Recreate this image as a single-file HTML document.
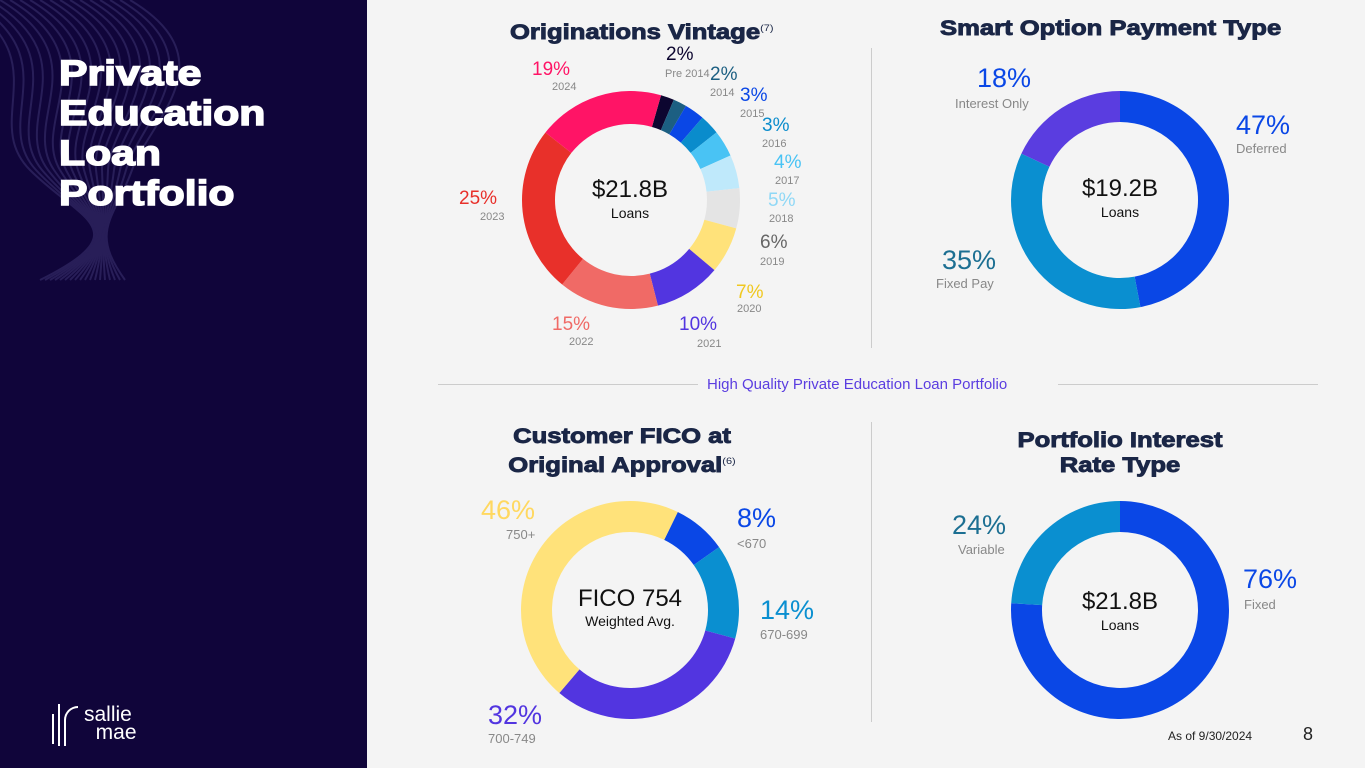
<!DOCTYPE html>
<html><head><meta charset="utf-8"><style>
body{margin:0;width:1365px;height:768px;overflow:hidden;background:#f4f4f4;font-family:"Liberation Sans",sans-serif;position:relative}
#left{position:absolute;left:0;top:0;width:367px;height:768px;background:#10053a;overflow:hidden}
.t{position:absolute;font-weight:bold;white-space:nowrap}
.p{position:absolute;font-size:22px;white-space:nowrap}
.s{position:absolute;font-size:11px;color:#888;white-space:nowrap}
.s2{position:absolute;font-size:13px;color:#888;white-space:nowrap}
.h{position:absolute;font-size:21px;font-weight:900;color:#1a2646;text-align:center;white-space:nowrap;-webkit-text-stroke:0.9px #1a2646;line-height:25px;transform:scaleX(1.22)}
.c1{position:absolute;font-size:24px;color:#111;text-align:center;width:200px}
.c2{position:absolute;font-size:14px;color:#111;text-align:center;width:200px}
</style></head><body>
<div id="left">
<svg width="367" height="768" style="position:absolute;left:0;top:0">
<g fill="none" stroke="#2e2560" stroke-width="2" opacity="0.8" id="waves"></g></svg>
<div class="t" style="left:59px;top:54px;color:#fff;font-size:35px;line-height:40px;font-weight:900;-webkit-text-stroke:1.5px #fff;transform:scaleX(1.22);transform-origin:left top">Private<br>Education<br>Loan<br>Portfolio</div>
<div style="position:absolute;left:50px;top:702px;color:#fff">
<div style="position:absolute;left:2px;top:12px;width:2px;height:30px;background:#fff"></div>
<div style="position:absolute;left:8px;top:2px;width:2px;height:42px;background:#fff"></div>
<div style="position:absolute;left:14px;top:4px;width:14px;height:40px;border-left:2px solid #fff;border-top:2px solid #fff;border-top-left-radius:16px;box-sizing:border-box"></div>
<div style="position:absolute;left:34px;top:4px;font-size:21px;line-height:18px">sallie<br>&nbsp;&nbsp;mae</div></div>
</div>
<div class="h" style="left:510px;top:16px;transform-origin:left top">Originations Vintage<sup style="font-size:9px;font-weight:normal;-webkit-text-stroke:0">(7)</sup></div>
<div class="h" style="left:940px;top:16px;transform-origin:left top">Smart Option Payment Type</div>
<div class="h" style="left:512px;top:424px;width:220px">Customer FICO at<br>Original Approval<sup style="font-size:9px;font-weight:normal;-webkit-text-stroke:0">(6)</sup></div>
<div class="h" style="left:1010px;top:428px;width:220px">Portfolio Interest<br>Rate Type</div>
<div style="position:absolute;left:871px;top:48px;width:1px;height:300px;background:#ccc"></div>
<div style="position:absolute;left:871px;top:422px;width:1px;height:300px;background:#ccc"></div>
<div style="position:absolute;left:438px;top:384px;width:260px;height:1px;background:#ccc"></div>
<div style="position:absolute;left:1058px;top:384px;width:260px;height:1px;background:#ccc"></div>
<div style="position:absolute;left:707px;top:376px;font-size:15px;color:#5a3de0">High Quality Private Education Loan Portfolio</div>
<svg id="ch" width="1365" height="768" style="position:absolute;left:0;top:0"></svg>
<div class="c1" style="left:530px;top:176px">$21.8B</div>
<div class="c2" style="left:530px;top:205px">Loans</div>
<div class="c1" style="left:1020px;top:175px">$19.2B</div>
<div class="c2" style="left:1020px;top:204px">Loans</div>
<div class="c1" style="left:530px;top:585px">FICO 754</div>
<div class="c2" style="left:530px;top:613px">Weighted Avg.</div>
<div class="c1" style="left:1020px;top:588px">$21.8B</div>
<div class="c2" style="left:1020px;top:617px">Loans</div>
<div id="labels"></div>
<div style="position:absolute;left:1168px;top:729px;font-size:12px;color:#222">As of 9/30/2024</div>
<div style="position:absolute;left:1303px;top:724px;font-size:18px;color:#222">8</div>
<script>
const vintageCats=["Pre 2014","2014","2015","2016","2017","2018","2019","2020","2021","2022","2023","2024"];
const vintageVals=[2,2,3,3,4,5,6,7,10,15,25,19];
const vintageColors=["#0d0630","#1c5f82","#0a47e6","#0a8ccc","#49c3f4","#bfe9fb","#e4e4e4","#ffe27a","#5235e0","#f06a66","#e8302a","#ff1466"];
const smartCats=["Deferred","Fixed Pay","Interest Only"];
const smartVals=[47,35,18];
const smartColors=["#0a47e6","#0a8fd0","#5a3de0"];
const ficoCats=["<670","670-699","700-749","750+"];
const ficoVals=[8,14,32,46];
const ficoColors=["#0a47e6","#0a8fd0","#5235e0","#ffe27a"];
const rateCats=["Fixed","Variable"];
const rateVals=[76,24];
const rateColors=["#0a47e6","#0a8fd0"];
const NS="http://www.w3.org/2000/svg";
const svg=document.getElementById('ch');
function pt(cx,cy,r,a){const t=(a-90)*Math.PI/180;return [cx+r*Math.cos(t),cy+r*Math.sin(t)];}
function donut(name,vals,colors,cats,cx,cy,R,r,start){
  const tot=vals.reduce((a,b)=>a+b,0);let a=start;
  vals.forEach((v,i)=>{const a2=a+v/tot*360;const large=(a2-a)>180?1:0;
    const [x1,y1]=pt(cx,cy,R,a),[x2,y2]=pt(cx,cy,R,a2),[x3,y3]=pt(cx,cy,r,a2),[x4,y4]=pt(cx,cy,r,a);
    const p=document.createElementNS(NS,'path');
    p.setAttribute('d',`M${x1} ${y1}A${R} ${R} 0 ${large} 1 ${x2} ${y2}L${x3} ${y3}A${r} ${r} 0 ${large} 0 ${x4} ${y4}Z`);
    p.setAttribute('fill',colors[i]);
    
    
    svg.appendChild(p);a=a2;});
}
donut('vintage',vintageVals,vintageColors,vintageCats,631,200,109,76,16);
donut('smart',smartVals,smartColors,smartCats,1120,200,109,78,0);
donut('fico',ficoVals,ficoColors,ficoCats,630,610,109,78,26);
donut('rate',rateVals,rateColors,rateCats,1120,610,109,78,0);
const L=document.getElementById('labels');
function lab(name,val,sub,x,y,col,big,subcls,sx,sy){
  const d=document.createElement('div');d.className='p';d.style.left=x+'px';d.style.top=y+'px';d.style.color=col;if(big)d.style.fontSize=big+'px';d.textContent=val+'%';
  
  
  L.appendChild(d);
  const s=document.createElement('div');s.className=subcls;s.style.left=sx+'px';s.style.top=sy+'px';s.textContent=sub;
  
  
  L.appendChild(s);
}
const vPos=[[666,44,665,68],[710,64,710,87],[740,85,740,108],[762,115,762,138],[774,152,775,175],[768,190,769,213],[760,232,760,256],[736,282,737,303],[679,314,697,338],[552,314,569,336],[459,188,480,211],[532,59,552,81]];
const vCol=["#0d0630","#1c5f82","#0a47e6","#0a8ccc","#49c3f4","#8fd8f6","#666","#f0c820","#5235e0","#f06a66","#e8302a","#ff1466"];
vintageCats.forEach((c,i)=>{const q=vPos[i];lab('vintage-'+c.toLowerCase().replace(/\s+/g,'-'),vintageVals[i],c,q[0],q[1],vCol[i],19,'s',q[2],q[3]);});
lab('smart-deferred',smartVals[0],smartCats[0],1236,110,'#0a47e6',27,'s2',1236,141);
lab('smart-fixed-pay',smartVals[1],smartCats[1],942,245,'#1c6f92',27,'s2',936,276);
lab('smart-interest-only',smartVals[2],smartCats[2],977,63,'#0a47e6',27,'s2',955,96);
lab('fico-lt670',ficoVals[0],ficoCats[0],737,503,'#0a47e6',27,'s2',737,536);
lab('fico-670-699',ficoVals[1],ficoCats[1],760,595,'#0a8fd0',27,'s2',760,627);
lab('fico-700-749',ficoVals[2],ficoCats[2],488,700,'#5235e0',27,'s2',488,731);
lab('fico-750',ficoVals[3],ficoCats[3],481,495,'#ffd860',27,'s2',506,527);
lab('rate-fixed',rateVals[0],rateCats[0],1243,564,'#0a47e6',27,'s2',1244,597);
lab('rate-variable',rateVals[1],rateCats[1],952,510,'#1c6f92',27,'s2',958,542);
const g=document.getElementById('waves');
for(let k=0;k<18;k++){const p=document.createElementNS(NS,'path');const o=k*10;
 p.setAttribute('d',`M${-40+o} 0 C${60+o} 60 ${-20+o} 120 ${30+o*0.6} 170 S${140-o*0.3} 230 ${40+o*0.5} 280`);
 
 
 g.appendChild(p);}
</script>
</body></html>
